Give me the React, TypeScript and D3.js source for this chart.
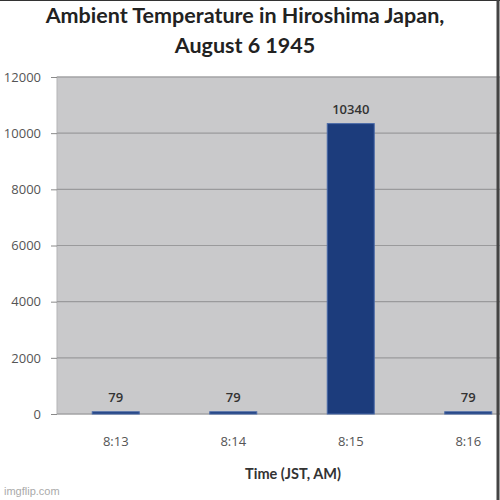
import React, { useEffect, useRef } from 'react';
import * as d3 from 'd3';

const times = ['8:13', '8:14', '8:15', '8:16'];
const temps = [79, 79, 10340, 79];
const yTicks = [0, 2000, 4000, 6000, 8000, 10000, 12000];
const titleLines = ['Ambient Temperature in Hiroshima Japan,', 'August 6 1945'];
const xTitle = 'Time (JST, AM)';

const App: React.FC = () => {
	const ref = useRef<SVGSVGElement>(null);

	const margin = { top: 77, left: 57, right: -27, bottom: 86 };
	const W = 500;
	const H = 500;

	useEffect(() => {
		if (!ref.current) return;
		const svg = d3.select(ref.current);
		svg.selectAll('*').remove();

		const x = d3
			.scaleBand<string>()
			.domain(times)
			.range([margin.left, W - margin.right])
			.paddingInner(0.6)
			.paddingOuter(0.3);
		const y = d3
			.scaleLinear()
			.domain([0, 12000])
			.range([H - margin.bottom, margin.top]);

		svg.append('rect').attr('width', W).attr('height', H).attr('fill', '#fff');

		// title
		svg
			.append('g')
			.selectAll('text')
			.data(titleLines)
			.enter()
			.append('text')
			.attr('x', 245)
			.attr('y', (_, i) => 23 + i * 30)
			.attr('text-anchor', 'middle')
			.style('font-family', 'Lato, "Open Sans", sans-serif')
			.style('font-weight', 'bold')
			.style('font-size', '21.5px')
			.attr('fill', '#222')
			.text((d) => d);

		// plot background
		svg
			.append('rect')
			.attr('x', margin.left)
			.attr('y', margin.top)
			.attr('width', W - margin.right - margin.left)
			.attr('height', H - margin.bottom - margin.top)
			.attr('fill', '#c9c9cb')
			.attr('stroke', '#b5b5b7');

		// y axis
		const yAxis = d3
			.axisLeft(y)
			.tickValues(yTicks)
			.tickSize(6)
			.tickPadding(10)
			.tickFormat((d) => String(d));
		const gy = svg
			.append('g')
			.attr('transform', `translate(${margin.left},0)`)
			.call(yAxis);
		gy.select('.domain').remove();
		gy.selectAll('line').attr('stroke', '#8a8a8a');
		gy.selectAll('text')
			.attr('fill', '#555')
			.style('font-family', '"Open Sans", sans-serif')
			.style('font-size', '13px');

		// gridlines
		svg
			.append('g')
			.selectAll('line')
			.data(yTicks)
			.enter()
			.append('line')
			.attr('x1', margin.left)
			.attr('x2', W - margin.right)
			.attr('y1', (d) => y(d))
			.attr('y2', (d) => y(d))
			.attr('stroke', '#9a9a9c')
			.attr('stroke-width', 1.2);

		// bars
		svg
			.append('g')
			.selectAll('rect')
			.data(temps)
			.enter()
			.append('rect')
			.attr('x', (_, i) => x(times[i]) ?? 0)
			.attr('y', (d) => y(d))
			.attr('width', x.bandwidth())
			.attr('height', (d) => y(0) - y(d))
			.attr('fill', '#1c3c7c')
			.attr('stroke', '#4a6aa8')
			.attr('stroke-width', 1);

		// value labels
		svg
			.append('g')
			.selectAll('text')
			.data(temps)
			.enter()
			.append('text')
			.attr('x', (_, i) => (x(times[i]) ?? 0) + x.bandwidth() / 2)
			.attr('y', (d) => y(d) - 10)
			.attr('text-anchor', 'middle')
			.style('font-family', '"Open Sans", sans-serif')
			.style('font-size', '13px')
			.style('font-weight', '600')
			.attr('fill', '#333')
			.text((d) => String(d));

		// x axis
		const xAxis = d3.axisBottom(x).tickSize(0).tickPadding(23);
		const gx = svg
			.append('g')
			.attr('transform', `translate(0,${H - margin.bottom})`)
			.call(xAxis);
		gx.select('.domain').remove();
		gx.selectAll('text')
			.attr('fill', '#555')
			.style('font-family', '"Open Sans", sans-serif')
			.style('font-size', '13px');

		svg
			.append('text')
			.attr('x', 293)
			.attr('y', 479)
			.attr('text-anchor', 'middle')
			.style('font-family', 'Lato, "Open Sans", sans-serif')
			.style('font-weight', 'bold')
			.style('font-size', '14.5px')
			.attr('fill', '#333')
			.text(xTitle);

		// watermark + frame
		svg
			.append('text')
			.attr('x', 4)
			.attr('y', 495)
			.style('font-family', '"Liberation Sans", Arial, sans-serif')
			.style('font-size', '11px')
			.attr('fill', '#aaa')
			.text('imgflip.com');
		svg
			.append('line')
			.attr('x1', 0)
			.attr('x2', W)
			.attr('y1', 0.5)
			.attr('y2', 0.5)
			.attr('stroke', '#333');
		svg
			.append('line')
			.attr('x1', W - 2)
			.attr('x2', W - 2)
			.attr('y1', 0)
			.attr('y2', H)
			.attr('stroke', '#444')
			.attr('stroke-width', 3);
	}, []);

	return (
		<svg
			ref={ref}
			width={W}
			height={H}
			style={{ position: 'absolute', left: 0, top: 0 }}></svg>
	);
};

export default App;
